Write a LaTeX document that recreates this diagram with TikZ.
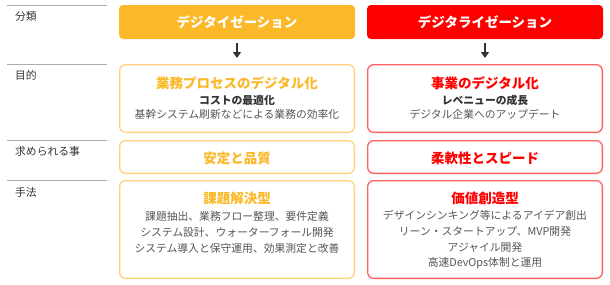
\documentclass[tikz,border=0pt]{standalone}
\usepackage{fontspec}
\setmainfont{Noto Sans CJK JP}
\usetikzlibrary{arrows.meta,positioning}
\definecolor{digiYellow}{HTML}{FBB829}
\definecolor{paleYellow}{HTML}{FFD27F}
\definecolor{digiRed}{HTML}{FF0000}
\definecolor{paleRed}{HTML}{FF6060}
\definecolor{inkDark}{HTML}{333333}
\definecolor{inkGray}{HTML}{555555}
\definecolor{ruleGray}{HTML}{AAAAAA}

\begin{document}
\begin{tikzpicture}[x=1pt,y=-1pt,
        head/.style={rounded corners=4pt,minimum width=236pt,minimum height=34pt,inner sep=0pt,
        text=white,font=\fontsize{13.5}{16}\selectfont\bfseries},
        frame/.style={draw,line width=1.3pt,rounded corners=6pt,minimum width=234.7pt,inner sep=0pt},
        title/.style={font=\fontsize{13.5}{16}\selectfont\bfseries},
        sub/.style={font=\fontsize{10.8}{13}\selectfont\bfseries,text=inkDark},
        body/.style={font=\fontsize{10.8}{15.7}\selectfont,text=inkGray},
        lbl/.style={anchor=west,inner sep=0pt,font=\fontsize{10.8}{13}\selectfont,text=inkDark},
        rule/.style={draw=ruleGray,line width=0.9pt},
        arrow/.style={-{Triangle[width=8pt,length=6pt]},line width=2.6pt,draw=inkDark,
        shorten <=4pt,shorten >=6pt}]
    \useasboundingbox (0,0) rectangle (610,284);
    % row labels
    \draw[rule] (7,5) -- (107,5);     \node[lbl] (lcls) at (15,16) {分類};
    \draw[rule] (7,64) -- (107,64);   \node[lbl] (lgoal) at (15,75) {目的};
    \draw[rule] (7,140) -- (107,140); \node[lbl] (lneed) at (15,151) {求められる事};
    \draw[rule] (7,180) -- (107,180); \node[lbl] (lway) at (15,192) {手法};
    % digitization column
    \node[head,fill=digiYellow] (hdA) at (237,22) {デジタイゼーション};
    \node[frame,draw=paleYellow,minimum height=67.7pt] (goalA) at (237,98.5) {};
    \node[title,text=digiYellow] (goalAt) at (237,83) {業務プロセスのデジタル化};
    \node[sub] (goalAs) at (237,100) {コストの最適化};
    \node[body] (goalAb) at (237,114.5) {基幹システム刷新などによる業務の効率化};
    \node[frame,draw=paleYellow,minimum height=32.7pt] (needA) at (237,157) {};
    \node[title,text=digiYellow] (needAt) at (237,158) {安定と品質};
    \node[frame,draw=paleYellow,minimum height=97.7pt] (wayA) at (237,229.5) {};
    \node[title,text=digiYellow] (wayAt) at (237,198) {課題解決型};
    \node[body,align=center] (wayAb) at (237,232.5) {課題抽出、業務フロー整理、要件定義\\
        システム設計、ウォーターフォール開発\\システム導入と保守運用、効果測定と改善};
    \draw[arrow] (hdA) -- (goalA);
    % digitalization column
    \node[head,fill=digiRed] (hdB) at (485,22) {デジタライゼーション};
    \node[frame,draw=paleRed,minimum height=67.7pt] (goalB) at (485,98.5) {};
    \node[title,text=digiRed] (goalBt) at (485,83) {事業のデジタル化};
    \node[sub] (goalBs) at (485,100) {レベニューの成長};
    \node[body] (goalBb) at (485,114.5) {デジタル企業へのアップデート};
    \node[frame,draw=paleRed,minimum height=32.7pt] (needB) at (485,157) {};
    \node[title,text=digiRed] (needBt) at (485,158) {柔軟性とスピード};
    \node[frame,draw=paleRed,minimum height=97.7pt] (wayB) at (485,229.5) {};
    \node[title,text=digiRed] (wayBt) at (485,198) {価値創造型};
    \node[body,align=center] (wayBb) at (485,240) {デザインシンキング等によるアイデア創出\\
        リーン・スタートアップ、MVP開発\\アジャイル開発\\高速DevOps体制と運用};
    \draw[arrow] (hdB) -- (goalB);
\end{tikzpicture}
\end{document}
